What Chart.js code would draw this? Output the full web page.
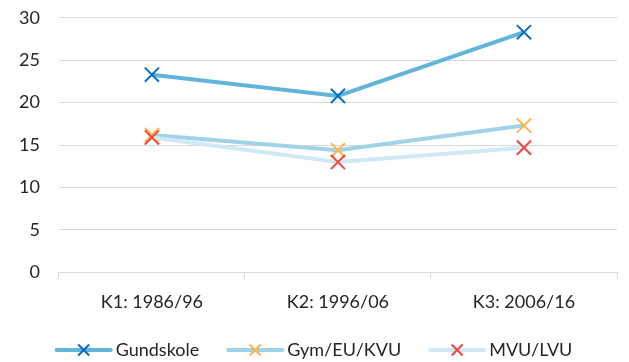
<!DOCTYPE html>
<html>
<head>
<meta charset="utf-8">
<script src="https://cdn.jsdelivr.net/npm/chart.js@4"></script>
<style>
  html, body { margin: 0; padding: 0; background: #fff; }
  #wrap { width: 629px; height: 362px; overflow: hidden; }
  #inner { width: 629px; height: 374px; margin-top: -12px; }
</style>
</head>
<body>
<div id="wrap"><div id="inner"><canvas id="chart"></canvas></div></div>
<script>
// Data
const categories = ['K1: 1986/96', 'K2: 1996/06', 'K3: 2006/16'];
const gundskole = [23.3, 20.8, 28.3];
const gymEuKvu = [16.2, 14.4, 17.3];
const mvuLvu = [15.9, 13.0, 14.7];
const seriesNames = ['Gundskole', 'Gym/EU/KVU', 'MVU/LVU'];

const lineColors = ['#62b5da', '#a0d2e8', '#d0e9f4'];
const markerColors = ['#0a6fc2', '#ffb54a', '#f0473c'];
const fontFamily = 'Lato, "Open Sans", sans-serif';

// Legend drawn with line + marker like the original
const lineLegend = {
    id: 'lineLegend',
    afterDraw(chart) {
        const ctx = chart.ctx;
        const sets = chart.data.datasets;
        ctx.save();
        ctx.font = '18px ' + fontFamily;
        ctx.textBaseline = 'middle';
        const lineLen = 54, gap = 5, itemGap = 29;
        let total = 0;
        sets.forEach(ds => { total += lineLen + gap + ctx.measureText(ds.label).width; });
        total += itemGap * (sets.length - 1);
        let x = (chart.width - total) / 2;
        const y = chart.height - 12;
        sets.forEach(ds => {
            ctx.strokeStyle = ds.borderColor;
            ctx.lineWidth = ds.borderWidth;
            ctx.lineCap = 'round';
            ctx.beginPath();
            ctx.moveTo(x, y);
            ctx.lineTo(x + lineLen, y);
            ctx.stroke();
            const mx = x + lineLen / 2, r = 5.5;
            ctx.strokeStyle = ds.pointBorderColor;
            ctx.lineWidth = 2;
            ctx.lineCap = 'butt';
            ctx.beginPath();
            ctx.moveTo(mx - r, y - r); ctx.lineTo(mx + r, y + r);
            ctx.moveTo(mx + r, y - r); ctx.lineTo(mx - r, y + r);
            ctx.stroke();
            ctx.fillStyle = '#262626';
            ctx.textAlign = 'left';
            ctx.fillText(ds.label, x + lineLen + gap, y);
            x += lineLen + gap + ctx.measureText(ds.label).width + itemGap;
        });
        ctx.restore();
    }
};

function makeSet(i, values) {
    return {
        label: seriesNames[i],
        data: values,
        order: 3 - i,
        borderColor: lineColors[i],
        backgroundColor: lineColors[i],
        borderWidth: 4,
        pointStyle: 'crossRot',
        pointRadius: 10,
        pointBorderWidth: 2,
        pointBorderColor: markerColors[i],
        pointHoverRadius: 10,
        tension: 0
    };
}

new Chart(document.getElementById('chart').getContext('2d'), {
    type: 'line',
    data: {
        labels: categories,
        datasets: [
            makeSet(0, gundskole),
            makeSet(1, gymEuKvu),
            makeSet(2, mvuLvu)
        ]
    },
    options: {
        responsive: true,
        maintainAspectRatio: false,
        animation: false,
        layout: { padding: { top: 0, right: 4, left: 0, bottom: 36 } },
        plugins: {
            legend: { display: false },
            tooltip: { enabled: false }
        },
        scales: {
            x: {
                offset: true,
                grid: {
                    offset: true,
                    drawOnChartArea: false,
                    drawTicks: true,
                    tickLength: 6,
                    color: '#d9d9d9'
                },
                border: { color: '#d9d9d9', width: 1 },
                ticks: {
                    color: '#262626',
                    font: { family: fontFamily, size: 18 },
                    padding: 13
                }
            },
            y: {
                min: 0,
                max: 30,
                ticks: {
                    stepSize: 5,
                    color: '#262626',
                    font: { family: fontFamily, size: 18 },
                    padding: 19
                },
                grid: { color: '#d9d9d9', drawTicks: false },
                border: { display: false }
            }
        }
    },
    plugins: [lineLegend]
});
</script>
</body>
</html>
